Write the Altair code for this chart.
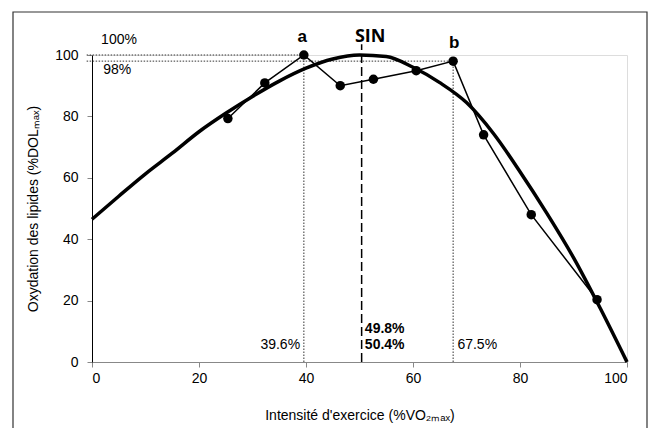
import altair as alt
import pandas as pd

# Observed data points (intensity %VO2max, fat oxidation %DOLmax)
obs_x = [25.4, 32.3, 39.6, 46.4, 52.6, 60.6, 67.5, 73.2, 82.1, 94.4]
obs_y = [79.3, 90.9, 100.0, 90.0, 92.1, 94.9, 98.0, 74.0, 48.0, 20.3]

# Fitted curve
fit_x = [0, 5, 10, 15, 20, 25, 30, 35, 40, 45, 50, 55, 60, 65, 70, 75, 80, 85, 90, 95, 100]
fit_y = [46.5, 54, 61.3, 68, 75, 81, 86.5, 91.5, 95.7, 98.7, 100, 99.5, 96, 91, 84.5, 74.5, 62, 48.5, 34, 17.5, 0]

# Reference dotted lines
vline_x = [39.6, 67.5]
vline_top = [100, 98]
hline_y = [100, 98]
hline_end = [39.6, 67.5]
sin_x = 50.4
sin_top = 103.5

# Annotations
ann_text = ["100%", "98%", "39.6%", "67.5%"]
ann_x = [1.7, 2.1, 38.9, 68.3]
ann_y = [104.8, 95.2, 5.5, 5.5]
ann_align = ["left", "left", "right", "left"]

bold_text = ["a", "b", "49.8%", "50.4%"]
bold_x = [39.3, 67.7, 51.0, 51.0]
bold_y = [106.0, 104.0, 10.8, 5.5]
bold_align = ["center", "center", "left", "left"]

sin_label = "SIN"
sin_label_x = 52.0
sin_label_y = 106.0

obs = pd.DataFrame({"x": obs_x, "y": obs_y})
fit = pd.DataFrame({"x": fit_x, "y": fit_y})
vl = pd.DataFrame({"x": vline_x, "y": [0, 0], "y2": vline_top})
hl = pd.DataFrame({"x": [-1, -1], "x2": hline_end, "y": hline_y})
sin = pd.DataFrame({"x": [sin_x], "y": [0], "y2": [sin_top]})
ann = pd.DataFrame({"t": ann_text, "x": ann_x, "y": ann_y, "a": ann_align})
bold = pd.DataFrame({"t": bold_text, "x": bold_x, "y": bold_y, "a": bold_align})
sinl = pd.DataFrame({"t": [sin_label], "x": [sin_label_x], "y": [sin_label_y]})

xscale = alt.Scale(domain=[0, 100], nice=False)
yscale = alt.Scale(domain=[0, 100], nice=False)

xaxis = alt.Axis(values=[0, 20, 40, 60, 80, 100], title="Intensité d'exercice (%VO₂ₘₐₓ)",
                 domainColor="#888888", tickColor="#888888", tickSize=5, grid=False,
                 labelFontSize=14, titleFontSize=14, titleFontWeight="normal",
                 labelPadding=4, titlePadding=23, labelColor="black", titleColor="black",
                 labelFont="Liberation Sans", titleFont="Liberation Sans")
yaxis = alt.Axis(values=[0, 20, 40, 60, 80, 100], title="Oxydation des lipides (%DOLₘₐₓ)",
                 domainColor="black", tickColor="#888888", tickSize=5, grid=False,
                 labelFontSize=14, titleFontSize=14, titleFontWeight="normal",
                 labelPadding=9, titlePadding=14, labelColor="black", titleColor="black",
                 labelFont="Liberation Sans", titleFont="Liberation Sans")

base_x = alt.X("x:Q", scale=xscale, axis=xaxis)
base_y = alt.Y("y:Q", scale=yscale, axis=yaxis)

frame = alt.Chart(pd.DataFrame({"k": [0]})).mark_rect(
    filled=False, stroke="#333333", strokeWidth=1.2
).encode(x=alt.value(-79), x2=alt.value(555), y=alt.value(-43), y2=alt.value(390))

curve = alt.Chart(fit).mark_line(color="black", strokeWidth=3.5, interpolate="monotone").encode(
    x=base_x, y=base_y)

vlines = alt.Chart(vl).mark_rule(color="#333333", strokeWidth=1, strokeDash=[1.5, 1.5]).encode(
    x="x:Q", y="y:Q", y2="y2:Q")
hlines = alt.Chart(hl).mark_rule(color="#333333", strokeWidth=1, strokeDash=[1.5, 1.5]).encode(
    x="x:Q", x2="x2:Q", y="y:Q")
sinline = alt.Chart(sin).mark_rule(color="black", strokeWidth=1.5, strokeDash=[9, 4]).encode(
    x="x:Q", y="y:Q", y2="y2:Q")

line = alt.Chart(obs).mark_line(color="black", strokeWidth=1.5).encode(x="x:Q", y="y:Q")
pts = alt.Chart(obs).mark_circle(color="black", size=90, opacity=1).encode(x="x:Q", y="y:Q")

ann_l = alt.Chart(ann[ann.a == "left"]).mark_text(
    align="left", baseline="middle", fontSize=14, font="Liberation Sans", color="black"
).encode(x="x:Q", y="y:Q", text="t:N")
ann_r = alt.Chart(ann[ann.a == "right"]).mark_text(
    align="right", baseline="middle", fontSize=14, font="Liberation Sans", color="black"
).encode(x="x:Q", y="y:Q", text="t:N")

bold_c = alt.Chart(bold[bold.a == "center"]).mark_text(
    align="center", baseline="middle", fontSize=17, fontWeight="bold", font="Liberation Sans", color="black"
).encode(x="x:Q", y="y:Q", text="t:N")
bold_l = alt.Chart(bold[bold.a == "left"]).mark_text(
    align="left", baseline="middle", fontSize=14, fontWeight="bold", font="Liberation Sans", color="black"
).encode(x="x:Q", y="y:Q", text="t:N")
sin_t = alt.Chart(sinl).mark_text(
    align="center", baseline="middle", fontSize=18, fontWeight="bold", font="Open Sans", color="black"
).encode(x="x:Q", y="y:Q", text="t:N")

chart = alt.layer(
    frame, vlines, hlines, sinline, curve, line, pts, ann_l, ann_r, bold_c, bold_l, sin_t
).properties(
    width=535, height=307,
    autosize=alt.AutoSizeParams(type="none"),
    padding={"left": 84, "top": 47, "right": 21, "bottom": 66},
).configure_view(stroke=None).configure(background="white")

chart.save("out.html", embed_options={"renderer": "svg", "actions": False})
